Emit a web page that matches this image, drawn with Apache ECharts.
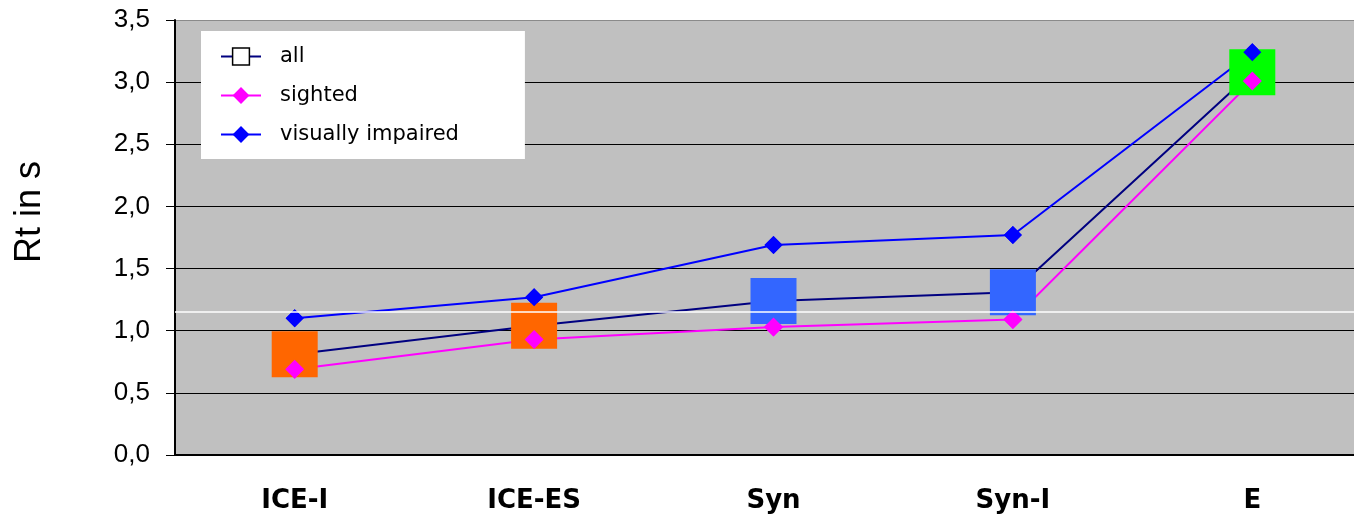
<!DOCTYPE html>
<html>
<head>
<meta charset="utf-8">
<script src="https://cdn.jsdelivr.net/npm/echarts@6/dist/echarts.min.js"></script>
<style>html,body{margin:0;padding:0;background:#fff}#c{width:1354px;height:519px}</style>
</head>
<body>
<div id="c"></div>
<script>
// ---- data ----
const categories = ['ICE-I', 'ICE-ES', 'Syn', 'Syn-I', 'E'];
const allValues = [0.81, 1.04, 1.24, 1.31, 3.08];
const sightedValues = [0.69, 0.93, 1.03, 1.09, 3.01];
const impairedValues = [1.10, 1.27, 1.69, 1.77, 3.24];
const referenceValue = 1.15;
const yTicks = { min: 0, max: 3.5, interval: 0.5 };
const seriesNames = ['all', 'sighted', 'visually impaired'];
const yTitle = 'Rt in s';

// ---- styles ----
const markerColors = ['#FF6600', '#FF6600', '#3366FF', '#3366FF', '#00FF00'];
const splitColors = ['#000', '#000', '#000', '#000', '#000', '#000', '#000', '#8a8a8a'];

const chart = echarts.init(document.getElementById('c'), null, { renderer: 'canvas' });
chart.setOption({
  animation: false,
  backgroundColor: '#fff',
  grid: { left: 175, top: 20, width: 1197, height: 435, show: true, backgroundColor: '#c0c0c0', borderWidth: 0,
    containLabel: false, outerBoundsMode: 'none' },
  legend: {
    orient: 'vertical', left: 201, top: 31,
    backgroundColor: '#fff',
    padding: [15, 66, 14, 19],
    itemWidth: 40, itemHeight: 21, itemGap: 18,
    textStyle: { fontFamily: 'DejaVu Sans', fontSize: 21, color: '#000', padding: [0, 0, 0, 14] },
    data: [
      { name: seriesNames[0], itemStyle: { color: '#fff', borderColor: '#000', borderWidth: 1.5 } },
      { name: seriesNames[1] },
      { name: seriesNames[2] }
    ]
  },
  graphic: [{
    type: 'text', x: 30, y: 212, rotation: Math.PI / 2,
    style: { text: yTitle, font: '36px "Liberation Sans", Arial, sans-serif', fill: '#000', align: 'center', verticalAlign: 'middle' }
  }],
  xAxis: {
    type: 'category', data: categories, boundaryGap: true,
    axisLine: { lineStyle: { color: '#000', width: 2 } },
    axisTick: { length: 10, lineStyle: { color: '#000', width: 1 } },
    axisLabel: { margin: 33, fontFamily: 'DejaVu Sans', fontWeight: 'bold', fontSize: 26, color: '#000' },
    splitLine: { show: false }
  },
  yAxis: {
    type: 'value', min: yTicks.min, max: yTicks.max, interval: yTicks.interval,
    axisLine: { show: true, lineStyle: { color: '#000', width: 2 } },
    axisTick: { show: true, length: 9, lineStyle: { color: '#000', width: 1 } },
    axisLabel: { margin: 25, fontFamily: '"Liberation Sans", Arial, sans-serif', fontSize: 26, color: '#000',
      formatter: v => v.toFixed(1).replace('.', ',') },
    splitLine: { show: true, lineStyle: { color: splitColors, width: 1 } }
  },
  series: [
    {
      name: seriesNames[2], type: 'line', data: impairedValues, z: 2,
      color: '#0000FF', lineStyle: { width: 2, color: '#0000FF' },
      symbol: 'diamond', symbolSize: 18, itemStyle: { color: '#0000FF' },
      markLine: {
        silent: true, symbol: ['none', 'none'], label: { show: false },
        lineStyle: { color: '#fff', width: 1.5, type: 'solid' },
        data: [{ yAxis: referenceValue }]
      }
    },
    {
      name: seriesNames[1], type: 'line', data: sightedValues, z: 2,
      color: '#FF00FF', lineStyle: { width: 2, color: '#FF00FF' },
      symbol: 'diamond', symbolSize: 19, itemStyle: { color: '#FF00FF' }
    },
    {
      name: seriesNames[0], type: 'line', z: 3,
      color: '#000080', lineStyle: { width: 2, color: '#000080' },
      symbol: 'rect', symbolSize: 46,
      data: allValues.map((v, i) => ({ value: v, itemStyle: { color: markerColors[i] } }))
    },
    {
      name: 'vi-markers', type: 'scatter', data: impairedValues, z: 4,
      symbol: 'diamond', symbolSize: 18, itemStyle: { color: '#0000FF', opacity: 1 }
    },
    {
      name: 'sighted-markers', type: 'scatter', data: sightedValues, z: 4,
      symbol: 'diamond', symbolSize: 19, itemStyle: { color: '#FF00FF', opacity: 1 }
    }
  ]
});
</script>
</body>
</html>
